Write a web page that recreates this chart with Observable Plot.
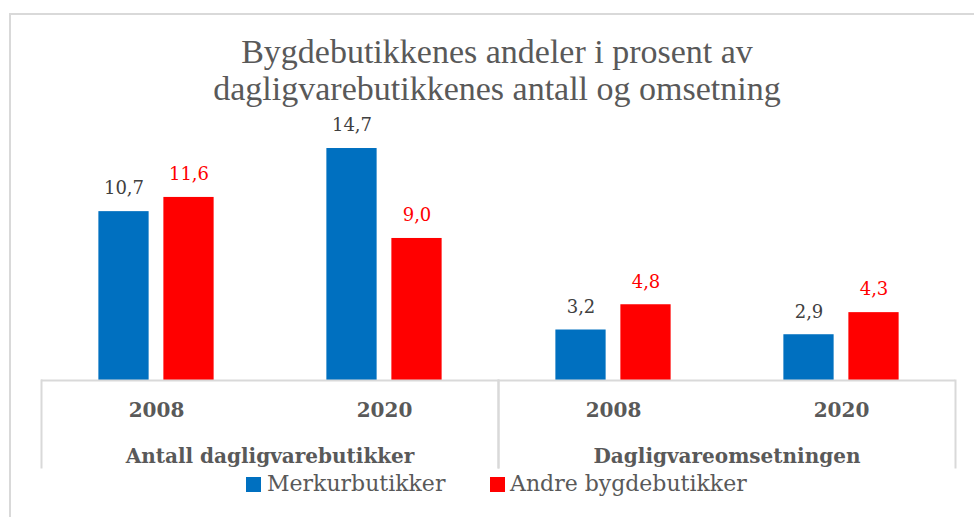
<!DOCTYPE html>
<html>
<head>
<meta charset="utf-8">
<script src="https://cdn.jsdelivr.net/npm/d3@7"></script>
<script src="https://cdn.jsdelivr.net/npm/@observablehq/plot@0.6"></script>
<style>
  html, body { margin: 0; padding: 0; background: #fff; overflow: hidden; }
  #wrap { position: relative; width: 974px; height: 517px; overflow: hidden; }
  #border { position: absolute; left: 9px; top: 13px; width: 1000px; height: 540px; border: 2px solid #d9d9d9; box-sizing: border-box; }
  #title { position: absolute; left: 0; width: 994px; top: 33px; text-align: center; font-family: "Liberation Serif", serif; font-size: 34px; line-height: 37px; color: #595959; }
  #chart { position: absolute; left: 0; top: 0; }
  .leg { position: absolute; font-family: "DejaVu Serif", serif; font-size: 22px; line-height: 22px; color: #595959; white-space: nowrap; }
  .sw { position: absolute; width: 15px; height: 15px; }
</style>
</head>
<body>
<div id="wrap">
  <div id="border"></div>
  <div id="title">Bygdebutikkenes andeler i prosent av<br>dagligvarebutikkenes antall og omsetning</div>
  <div id="chart"></div>
  <div id="legend"></div>
</div>
<script>
const groups = ["Antall dagligvarebutikker", "Dagligvareomsetningen"];
const years = ["2008", "2020"];
const series = ["Merkurbutikker", "Andre bygdebutikker"];
const merkur = [10.7, 14.7, 3.2, 2.9];
const andre = [11.6, 9.0, 4.8, 4.3];
const colors = ["#0070C0", "#FF0000"];
const labelColors = ["#404040", "#FF0000"];

const rows = [];
groups.forEach((g, gi) => years.forEach((y, yi) => {
  const i = gi * 2 + yi;
  rows.push({group: g, year: y, series: series[0], value: merkur[i]});
  rows.push({group: g, year: y, series: series[1], value: andre[i]});
}));
const yearRows = [];
groups.forEach(g => years.forEach(y => yearRows.push({group: g, year: y})));

const fmt = v => v.toFixed(1).replace(".", ",");
const W = 974, H = 517;
const mL = 40, mR = 19, mB = 137, mT = 127.5;
const bandW = (W - mL - mR) / 4;
const barW = 51;
const inset = (bandW - barW) / 2;
const off = 32.5;
const sepStyle = {stroke: "#d9d9d9", strokeWidth: 2, insetTop: (H - mB) - mT, insetBottom: -87};

const marks = [];
series.forEach((s, si) => {
  const data = rows.filter(d => d.series === s);
  const dx = si === 0 ? -off : off;
  marks.push(Plot.barY(data, {fx: "group", x: "year", y: "value", fill: colors[si], dx, insetLeft: inset, insetRight: inset}));
  marks.push(Plot.text(data, {fx: "group", x: "year", y: "value", text: d => fmt(d.value), dx, dy: -23, lineAnchor: "middle", fill: labelColors[si], fontSize: 18, fontFamily: "DejaVu Serif"}));
});
marks.push(Plot.ruleY([0], {stroke: "#d9d9d9", strokeWidth: 2}));
marks.push(Plot.frame({anchor: "left", ...sepStyle}));
marks.push(Plot.frame({anchor: "right", ...sepStyle}));
marks.push(Plot.text(yearRows, {fx: "group", x: "year", text: "year", frameAnchor: "bottom", dy: 30, lineAnchor: "middle", fill: "#595959", fontWeight: "bold", fontSize: 20, fontFamily: "DejaVu Serif"}));
marks.push(Plot.text(groups, {fx: d => d, text: d => d, frameAnchor: "bottom", dy: 76, lineAnchor: "middle", fill: "#595959", fontWeight: "bold", fontSize: 20, fontFamily: "DejaVu Serif"}));

const chart = Plot.plot({
  width: W, height: H,
  marginLeft: mL, marginRight: mR, marginTop: mT, marginBottom: mB,
  style: {background: "transparent", overflow: "visible"},
  fx: {domain: groups, padding: 0, axis: null},
  x: {domain: years, padding: 0, axis: null},
  y: {domain: [0, 16], axis: null},
  marks
});
document.getElementById("chart").appendChild(chart);

// legend
const legend = document.getElementById("legend");
const legPos = [{sw: 246, tx: 267}, {sw: 490, tx: 510}];
series.forEach((s, si) => {
  const sw = document.createElement("div");
  sw.className = "sw";
  sw.style.left = legPos[si].sw + "px";
  sw.style.top = "477px";
  sw.style.background = colors[si];
  legend.appendChild(sw);
  const t = document.createElement("div");
  t.className = "leg";
  t.style.left = legPos[si].tx + "px";
  t.style.top = "473px";
  t.textContent = s;
  legend.appendChild(t);
});
</script>
</body>
</html>
